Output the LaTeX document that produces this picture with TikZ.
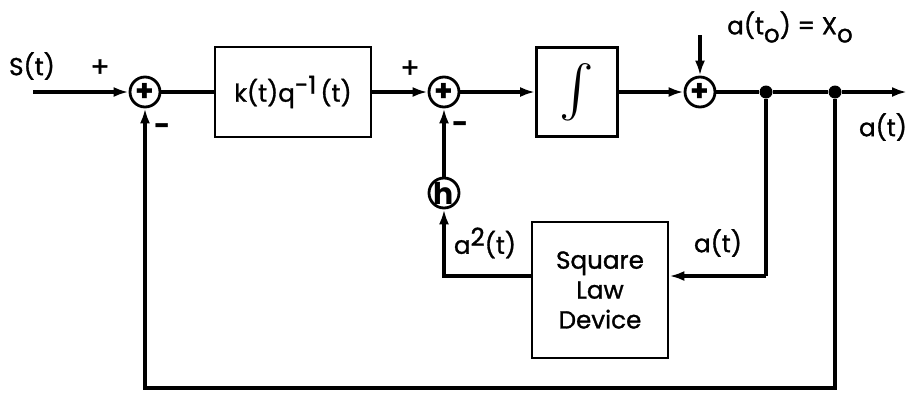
\documentclass[tikz,border=0pt]{standalone}
\usepackage{fontspec}
\setmainfont{Poppins}[UprightFeatures={FakeBold=1.2}]
\usetikzlibrary{arrows.meta,positioning}
\tikzset{
  blk/.style={draw,line width=1.6pt,inner sep=0pt,align=center},
  sumnode/.style={draw,circle,line width=1.6pt,minimum size=0.6cm,inner sep=0pt,font=\bfseries\fontsize{17}{17}\selectfont},
  dot/.style={circle,fill,inner sep=0pt,minimum size=0.26cm},
  sig/.style={line width=2pt},
  arr/.style={sig,-{Latex[length=0.3cm,width=0.2cm]}},
  sgn/.style={font=\fontsize{16}{16}\selectfont},
}
\newcommand{\hi}[1]{\raisebox{0.6ex}{#1}}
\newcommand{\lo}[1]{\raisebox{-0.6ex}{#1}}

\begin{document}
\begin{tikzpicture}[x=0.02cm,y=-0.02cm,font=\fontsize{14}{17}\selectfont]
  \useasboundingbox (0,0) rectangle (909,393);
  % forward path
  \coordinate (in) at (33,92);
  \node[sumnode] (sumA) at (145,92) {+};
  \node[blk,minimum width=3.12cm,minimum height=1.8cm] (gain) at (293,92)
    {k(t)q\hi{-1}\,(t)};
  \node[sumnode] (sumB) at (444,92) {+};
  \node[blk,minimum width=1.62cm,minimum height=1.78cm] (intg) at (577,92)
    {\resizebox{!}{0.95cm}{$\int$}};
  \node[sumnode] (sumC) at (700,92) {+};
  \coordinate (init) at (700,35);
  \node[dot] (dotA) at (766,92) {};
  \node[dot] (dotB) at (835,92) {};
  \coordinate (out) at (907,92);
  % inner loop
  \node[sumnode] (hnode) at (444,193) {h};
  \node[blk,minimum width=2.72cm,minimum height=2.72cm] (sq) at (600,290)
    {Square\\Law\\Device};
  \coordinate (fbA) at (766,276);
  \coordinate (fbB) at (835,388);

  \draw[arr] (in) -- (sumA);
  \draw[sig] (sumA) -- (gain);
  \draw[arr] (gain) -- (sumB);
  \draw[arr] (sumB) -- (intg);
  \draw[arr] (intg) -- (sumC);
  \draw[arr] (init) -- (sumC);
  \draw[sig] (sumC) -- (dotA) -- (dotB);
  \draw[arr] (dotB) -- (out);
  \draw[sig] (dotA) -- (fbA);
  \draw[arr] (fbA) -- (fbA -| sq.east);
  \draw[arr] (sq.west |- fbA) -| (hnode);
  \draw[arr] (hnode) -- (sumB);
  \draw[arr] (dotB) -- (fbB) -| (sumA);

  % labels
  \node (sLbl) at (32,66) {S(t)};
  \node[sgn] (pA) at (100,68) {+};
  \node[sgn] (mA) at (163,130) {\bfseries -};
  \node[sgn] (pB) at (410,69) {+};
  \node[sgn] (mB) at (461,128) {\bfseries -};
  \node (x0) at (790,27) {a(t\lo{o}) = X\lo{o}};
  \node (outLbl) at (883,127) {a(t)};
  \node (sqLbl) at (485,243) {a\hi{2}(t)};
  \node (aLbl) at (718,243) {a(t)};
\end{tikzpicture}
\end{document}
